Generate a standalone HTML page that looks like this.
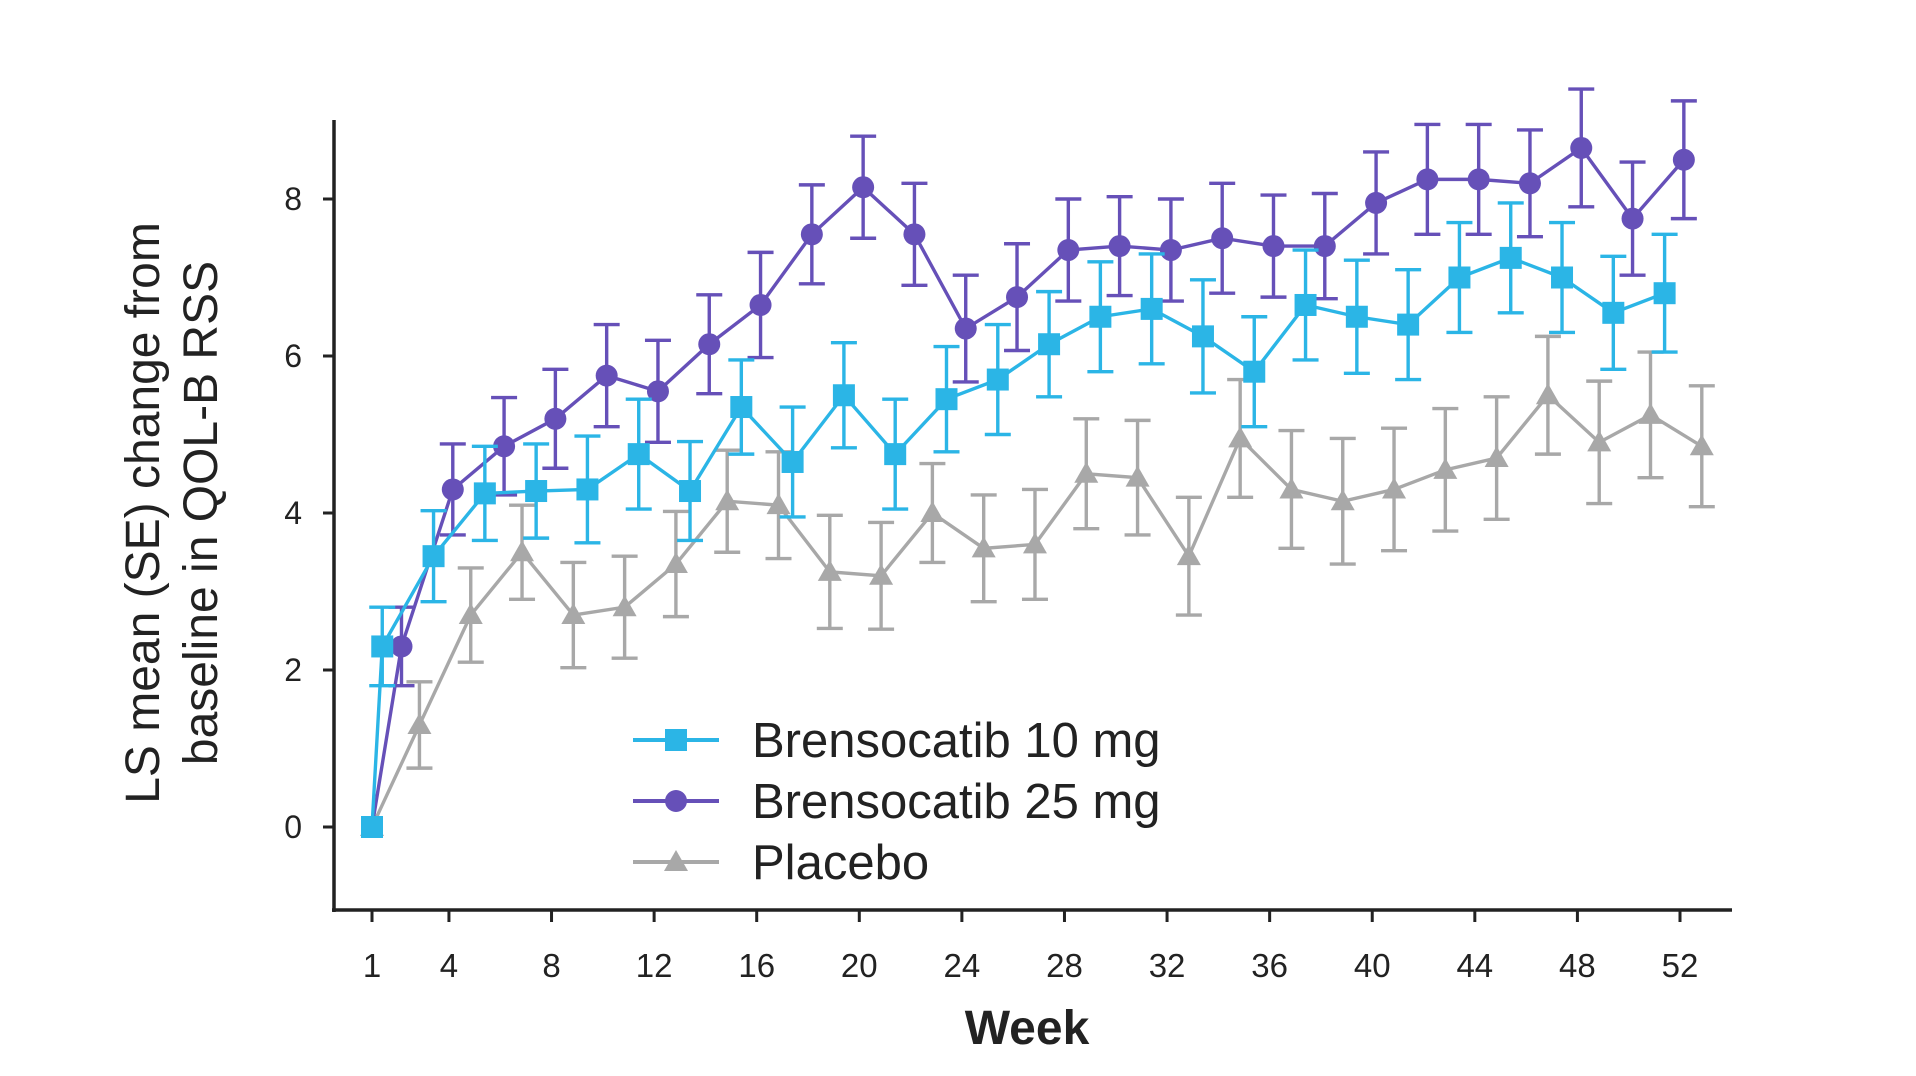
<!DOCTYPE html>
<html><head><meta charset="utf-8"><style>
html,body{margin:0;padding:0;background:#fff;}
svg{display:block;font-family:"Liberation Sans",Arial,sans-serif;}
</style></head><body>
<svg id="chart" width="1916" height="1076" viewBox="0 0 1916 1076" xmlns="http://www.w3.org/2000/svg">
<g id="axes"></g>
<g id="series"></g>
<g id="legend"></g>
</svg>
<script>
const visitWeeks=[2,4,6,8,10,12,14,16,18,20,22,24,26,28,30,32,34,36,38,40,42,44,46,48,50,52];
const xTicks=[1,4,8,12,16,20,24,28,32,36,40,44,48,52];
const yTicks=[0,2,4,6,8];
const mg10Values=[2.3,3.45,4.25,4.28,4.3,4.75,4.28,5.35,4.65,5.5,4.75,5.45,5.7,6.15,6.5,6.6,6.25,5.8,6.65,6.5,6.4,7.0,7.25,7.0,6.55,6.8];
const mg10SE=[0.5,0.58,0.6,0.6,0.68,0.7,0.63,0.6,0.7,0.67,0.7,0.67,0.7,0.67,0.7,0.7,0.72,0.7,0.7,0.72,0.7,0.7,0.7,0.7,0.72,0.75];
const mg25Values=[2.3,4.3,4.85,5.2,5.75,5.55,6.15,6.65,7.55,8.15,7.55,6.35,6.75,7.35,7.4,7.35,7.5,7.4,7.4,7.95,8.25,8.25,8.2,8.65,7.75,8.5];
const mg25SE=[0.5,0.58,0.62,0.63,0.65,0.65,0.63,0.67,0.63,0.65,0.65,0.68,0.68,0.65,0.63,0.65,0.7,0.65,0.67,0.65,0.7,0.7,0.68,0.75,0.72,0.75];
const placeboValues=[1.3,2.7,3.5,2.7,2.8,3.35,4.15,4.1,3.25,3.2,4.0,3.55,3.6,4.5,4.45,3.45,4.95,4.3,4.15,4.3,4.55,4.7,5.5,4.9,5.25,4.85];
const placeboSE=[0.55,0.6,0.6,0.67,0.65,0.67,0.65,0.68,0.72,0.68,0.63,0.68,0.7,0.7,0.73,0.75,0.75,0.75,0.8,0.78,0.78,0.78,0.75,0.78,0.8,0.77];
const baselineWeek=1, baselineValue=0;

const NS="http://www.w3.org/2000/svg";
const xs=w=>372+(w-1)*(1680-372)/51;
const ys=v=>827-v*(827-199)/8;
function mk(tag,attrs,parent,text){const e=document.createElementNS(NS,tag);for(const k in attrs)e.setAttribute(k,attrs[k]);if(text!==undefined)e.textContent=text;parent.appendChild(e);return e;}
const axes=document.getElementById('axes');
let e=mk('line',{x1:334,y1:120,x2:334,y2:912,stroke:'#222','stroke-width':3.5},axes);


e=mk('line',{x1:332,y1:910,x2:1732,y2:910,stroke:'#222','stroke-width':3.5},axes);


yTicks.forEach(t=>{
 const y=ys(t);
 const l=mk('line',{x1:323,y1:y,x2:334,y2:y,stroke:'#222','stroke-width':3},axes);
 
 
 const tx=mk('text',{x:302,y:y+11,'text-anchor':'end','font-size':32,fill:'#222'},axes,String(t));
 
 
});
xTicks.forEach(t=>{
 const x=xs(t);
 const l=mk('line',{x1:x,y1:910,x2:x,y2:922,stroke:'#222','stroke-width':3},axes);
 
 
 const tx=mk('text',{x:x,y:977,'text-anchor':'middle','font-size':33,fill:'#222'},axes,String(t));
 
 
});
e=mk('text',{x:1027,y:1044,'text-anchor':'middle','font-size':48,'font-weight':'bold',fill:'#222'},axes,'Week');


e=mk('text',{transform:'translate(159,513) rotate(-90)','text-anchor':'middle','font-size':48,fill:'#222'},axes,'LS mean (SE) change from');


e=mk('text',{transform:'translate(217,513) rotate(-90)','text-anchor':'middle','font-size':48,fill:'#222'},axes,'baseline in QOL-B RSS');



function marker(kind,x,y,color,parent,name){
 let m;
 if(kind==='square') m=mk('rect',{x:x-11,y:y-11,width:22,height:22,fill:color},parent);
 else if(kind==='circle') m=mk('circle',{cx:x,cy:y,r:11,fill:color},parent);
 else m=mk('polygon',{points:`${x},${y-12} ${x+12},${y+9} ${x-12},${y+9}`,fill:color},parent);
 
 
}
const seriesG=document.getElementById('series');
function drawSeries(name,vals,se,offset,color,kind){
 const g=mk('g',{},seriesG);
 
 
 const pts=[[xs(baselineWeek),ys(baselineValue)]].concat(vals.map((v,i)=>[xs(visitWeeks[i]+offset),ys(v)]));
 vals.forEach((v,i)=>{
  const x=xs(visitWeeks[i]+offset),y1=ys(v+se[i]),y2=ys(v-se[i]);
  const p=mk('path',{d:`M${x-13},${y1}H${x+13}M${x},${y1}V${y2}M${x-13},${y2}H${x+13}`,stroke:color,'stroke-width':3.4,fill:'none'},g);
  
  
 });
 const ln=mk('polyline',{points:pts.map(p=>p.join(',')).join(' '),stroke:color,'stroke-width':3.4,fill:'none'},g);
 
 
 pts.forEach(p=>marker(kind,p[0],p[1],color,g,name+'-point'));
}
drawSeries('placebo',placeboValues,placeboSE,0.85,'#a8a8a8','triangle');
drawSeries('brensocatib-25mg',mg25Values,mg25SE,0.15,'#6650b8','circle');
drawSeries('brensocatib-10mg',mg10Values,mg10SE,-0.6,'#2bb5e6','square');

const legend=document.getElementById('legend');
[['Brensocatib 10 mg','#2bb5e6','square',740],['Brensocatib 25 mg','#6650b8','circle',801],['Placebo','#a8a8a8','triangle',862]].forEach(([lab,c,k,y])=>{
 const g=mk('g',{},legend);
 
 
 const l=mk('line',{x1:633,y1:y,x2:719,y2:y,stroke:c,'stroke-width':4},g);
 
 
 marker(k,676,y,c,g,'legend-marker');
 const t=mk('text',{x:752,y:y+17,'font-size':49,fill:'#222'},g,lab);
 
 
});
</script>
</body></html>
